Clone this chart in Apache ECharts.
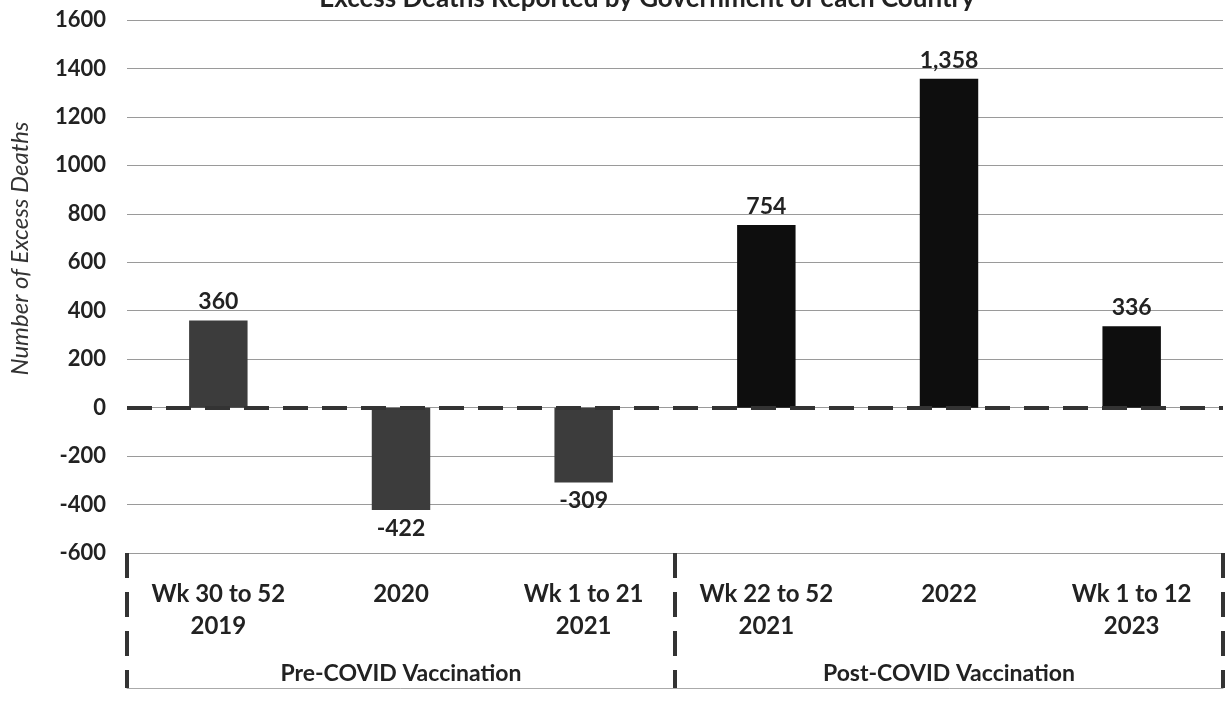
<!DOCTYPE html>
<html>
<head>
<meta charset="utf-8">
<script src="https://cdn.jsdelivr.net/npm/echarts@6/dist/echarts.min.js"></script>
<style>
  html, body { margin: 0; padding: 0; background: #fff; }
  #chart { width: 1228px; height: 704px; }
</style>
</head>
<body>
<div id="chart"></div>
<script>
// periods and excess deaths
var categories = ['Wk 30 to 52\n2019', '2020', 'Wk 1 to 21\n2021', 'Wk 22 to 52\n2021', '2022', 'Wk 1 to 12\n2023'];
var excessDeaths = [360, -422, -309, 754, 1358, 336];
var groups = ['Pre-COVID Vaccination', 'Post-COVID Vaccination'];
var yTicks = { min: -600, max: 1600, step: 200 };

var font = 'Lato, "Open Sans", sans-serif';
var chart = echarts.init(document.getElementById('chart'));

chart.setOption({
  backgroundColor: '#fff',
  textStyle: { fontFamily: font },
  title: {
    text: 'Excess Deaths Reported by Government of each Country',
    right: 248,
    top: -19,
    textStyle: { fontSize: 26, fontWeight: 'bold', color: '#222', fontFamily: font }
  },
  grid: { left: 119, right: 5, top: 20, bottom: 151 },
  xAxis: [
    {
      type: 'category',
      data: categories,
      axisLine: { show: false },
      axisTick: { show: false },
      axisLabel: {
        interval: 0,
        margin: 25,
        fontSize: 24,
        fontWeight: 'bold',
        lineHeight: 32,
        color: '#222'
      }
    },
    {
      type: 'category',
      data: groups,
      position: 'bottom',
      axisLine: { show: false },
      axisTick: {
        show: true,
        length: 135,
        lineStyle: { color: '#333', width: 4, type: [25, 14] }
      },
      axisLabel: { margin: 109, fontSize: 23, fontWeight: 'bold', color: '#222' }
    },
    {
      type: 'category',
      data: groups,
      position: 'bottom',
      offset: 135,
      axisLine: { show: true, lineStyle: { color: '#aaa', width: 1 } },
      axisTick: { show: false },
      axisLabel: { show: false }
    }
  ],
  yAxis: {
    type: 'value',
    min: yTicks.min,
    max: yTicks.max,
    interval: yTicks.step,
    name: 'Number of Excess Deaths',
    nameLocation: 'middle',
    nameGap: 95,
    nameRotate: 90,
    nameTextStyle: { fontSize: 24, fontStyle: 'italic', color: '#333', padding: [0, 0, 0, 76] },
    axisLine: { show: false },
    axisTick: { show: false },
    axisLabel: {
      margin: 21,
      fontSize: 22,
      fontWeight: 'bold',
      color: '#222',
      formatter: function (v) { return String(v); }
    },
    splitLine: { lineStyle: { color: '#9a9a9a', width: 1 } }
  },
  series: [{
    type: 'bar',
    data: excessDeaths,
    barWidth: '32%',
    itemStyle: {
      color: function (p) { return p.dataIndex < 3 ? '#3c3c3c' : '#0e0e0e'; }
    },
    label: {
      show: true,
      position: 'outside',
      distance: 7,
      fontSize: 23,
      fontWeight: 'bold',
      color: '#222',
      formatter: function (p) { return p.value.toLocaleString('en-US'); }
    },
    markLine: {
      silent: true,
      symbol: 'none',
      label: { show: false },
      lineStyle: { color: '#333', width: 4, type: [25, 14] },
      data: [{ yAxis: 0 }]
    }
  }]
});
</script>
</body>
</html>
